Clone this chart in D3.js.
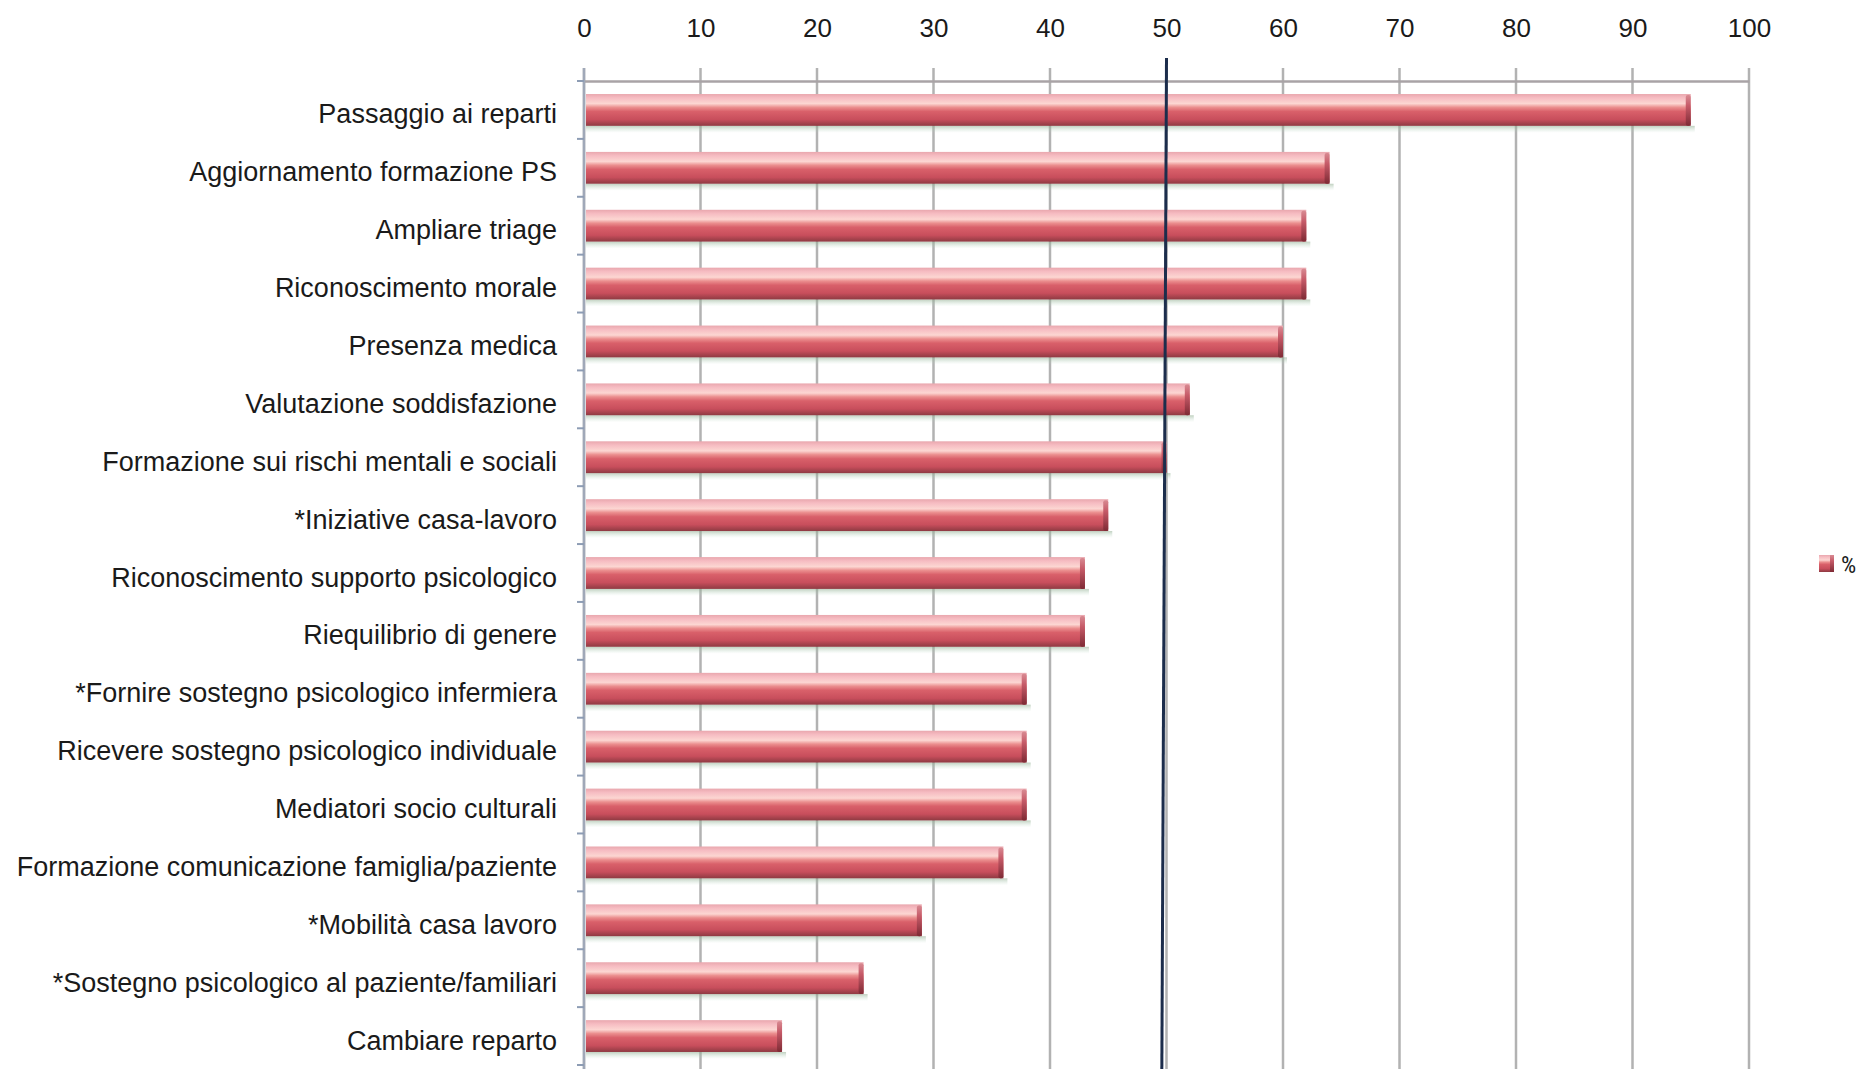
<!DOCTYPE html>
<html>
<head>
<meta charset="utf-8">
<script src="https://cdn.jsdelivr.net/npm/d3@7"></script>
<style>
  html, body { margin: 0; padding: 0; background: #ffffff; }
  svg { display: block; }
  text { font-family: "Liberation Sans Narrow", "Arial Narrow", "Roboto Condensed", "Liberation Sans", sans-serif; fill: #1a1a1a; }
</style>
</head>
<body>
<svg id="chart" width="1868" height="1069"></svg>
<script>
// Proposals, ordered as listed (percent of respondents)
const categories = [
  "Passaggio ai reparti",
  "Aggiornamento formazione PS",
  "Ampliare triage",
  "Riconoscimento morale",
  "Presenza medica",
  "Valutazione soddisfazione",
  "Formazione sui rischi mentali e sociali",
  "*Iniziative casa-lavoro",
  "Riconoscimento supporto psicologico",
  "Riequilibrio di genere",
  "*Fornire sostegno psicologico infermiera",
  "Ricevere sostegno psicologico individuale",
  "Mediatori socio culturali",
  "Formazione comunicazione famiglia/paziente",
  "*Mobilità casa lavoro",
  "*Sostegno psicologico al paziente/familiari",
  "Cambiare reparto"
];
const values = [95, 64, 62, 62, 60, 52, 50, 45, 43, 43, 38, 38, 38, 36, 29, 24, 17];
const xTicks = [0, 10, 20, 30, 40, 50, 60, 70, 80, 90, 100];
const referenceValue = 50;
const seriesName = "%";

const svg = d3.select("#chart");
const W = 1868, H = 1069;

const plot = { left: 584, right: 1749, top: 81, bottom: 1065 };

const x = d3.scaleLinear().domain([0, 100]).range([plot.left, plot.right]);
const y = d3.scaleBand()
  .domain(categories)
  .range([plot.top, plot.bottom])
  .paddingInner(0.45)
  .paddingOuter(0.225);

// Gradients for the cylinder-like bars
const defs = svg.append("defs");
const barGrad = defs.append("linearGradient")
  .attr("id", "barGrad").attr("x1", 0).attr("y1", 0).attr("x2", 0).attr("y2", 1);
[
  [0.00, "#e9a7ae"],
  [0.12, "#f6bcc2"],
  [0.30, "#fcd6d2"],
  [0.42, "#eb8e8e"],
  [0.55, "#d9606a"],
  [0.80, "#c84e5c"],
  [1.00, "#8e3a42"]
].forEach(([o, c]) => barGrad.append("stop").attr("offset", o).attr("stop-color", c));

const capGrad = defs.append("linearGradient")
  .attr("id", "capGrad").attr("x1", 0).attr("y1", 0).attr("x2", 0).attr("y2", 1);
[
  [0.00, "#d88a92"],
  [0.35, "#c65a68"],
  [1.00, "#7e2a34"]
].forEach(([o, c]) => capGrad.append("stop").attr("offset", o).attr("stop-color", c));

const shadowGrad = defs.append("linearGradient")
  .attr("id", "shadowGrad").attr("x1", 0).attr("y1", 0).attr("x2", 0).attr("y2", 1);
[
  [0.00, "rgba(140,170,140,0.55)"],
  [1.00, "rgba(190,220,200,0)"]
].forEach(([o, c]) => shadowGrad.append("stop").attr("offset", o).attr("stop-color", c));

// Vertical gridlines with short outward ticks above the top axis
const grid = svg.append("g");
grid.selectAll("line")
  .data(xTicks)
  .join("line")
  .attr("x1", d => x(d)).attr("x2", d => x(d))
  .attr("y1", plot.top - 13).attr("y2", H)
  .attr("stroke", "#b2b2b2")
  .attr("stroke-width", 2.5);

// Top axis with labels
const xAxis = d3.axisTop(x).tickValues(xTicks).tickSize(0).tickPadding(0).tickFormat(d3.format("d"));
const gx = svg.append("g")
  .attr("transform", `translate(0,${plot.top})`)
  .call(xAxis);
gx.select(".domain").attr("stroke", "#a9a3a6").attr("stroke-width", 2.5);
gx.selectAll(".tick text")
  .attr("y", 0)
  .attr("dy", 0)
  .attr("transform", `translate(0,${-51})`)
  .attr("font-size", 26)
  .attr("dominant-baseline", "middle")
  .style("font-family", "'Liberation Sans Narrow', 'Arial Narrow', sans-serif")
  .attr("fill", "#1a1a1a");

// Left category axis
const yAxis = d3.axisLeft(y).tickSize(0).tickPadding(27);
const gy = svg.append("g")
  .attr("transform", `translate(${plot.left},0)`)
  .call(yAxis);
gy.select(".domain").remove();
gy.selectAll(".tick text")
  .attr("font-size", 27)
  .attr("dy", "0.5em")
  .style("font-family", "'Liberation Sans Narrow', 'Arial Narrow', sans-serif")
  .attr("fill", "#1a1a1a");

svg.append("line")
  .attr("x1", plot.left).attr("x2", plot.left)
  .attr("y1", plot.top - 13).attr("y2", H)
  .attr("stroke", "#a0a8b8").attr("stroke-width", 2.5);

// Minor ticks on the category axis at band boundaries
const boundaries = d3.range(categories.length + 1).map(i => plot.top + y.step() * i);
svg.append("g").selectAll("line")
  .data(boundaries)
  .join("line")
  .attr("x1", plot.left - 7).attr("x2", plot.left)
  .attr("y1", d => d).attr("y2", d => d)
  .attr("stroke", "#8d9cb4").attr("stroke-width", 2);

// Bars
const bars = svg.append("g");
const data = categories.map((c, i) => ({ c, v: values[i] }));

bars.selectAll("rect.shadow")
  .data(data)
  .join("rect")
  .attr("class", "shadow")
  .attr("x", x(0) + 2)
  .attr("y", d => y(d.c) + y.bandwidth())
  .attr("width", d => x(d.v) - x(0) + 2)
  .attr("height", 7)
  .attr("fill", "url(#shadowGrad)");

bars.selectAll("rect.bar")
  .data(data)
  .join("rect")
  .attr("class", "bar")
  .attr("x", x(0) + 2)
  .attr("y", d => y(d.c))
  .attr("width", d => x(d.v) - x(0) - 2)
  .attr("height", y.bandwidth())
  .attr("fill", "url(#barGrad)");

bars.selectAll("rect.cap")
  .data(data)
  .join("rect")
  .attr("class", "cap")
  .attr("x", d => x(d.v) - 5)
  .attr("y", d => y(d.c) + 1)
  .attr("width", 5)
  .attr("height", y.bandwidth() - 1)
  .attr("rx", 2)
  .attr("fill", "url(#capGrad)");

// Reference line at 50%
svg.append("line")
  .attr("x1", x(referenceValue)).attr("x2", x(referenceValue - 0.4))
  .attr("y1", 58).attr("y2", H)
  .attr("stroke", "#1c2d4c").attr("stroke-width", 3);

// Legend
const legend = svg.append("g").attr("transform", `translate(1819,555)`);
legend.append("rect")
  .attr("width", 15).attr("height", 17)
  .attr("fill", "url(#barGrad)");
legend.append("rect")
  .attr("x", 11).attr("width", 4).attr("height", 17)
  .attr("fill", "url(#capGrad)");
legend.append("text")
  .attr("x", 22).attr("y", 9).attr("dy", "0.38em")
  .attr("font-size", 24)
  .text(seriesName);
</script>
</body>
</html>
